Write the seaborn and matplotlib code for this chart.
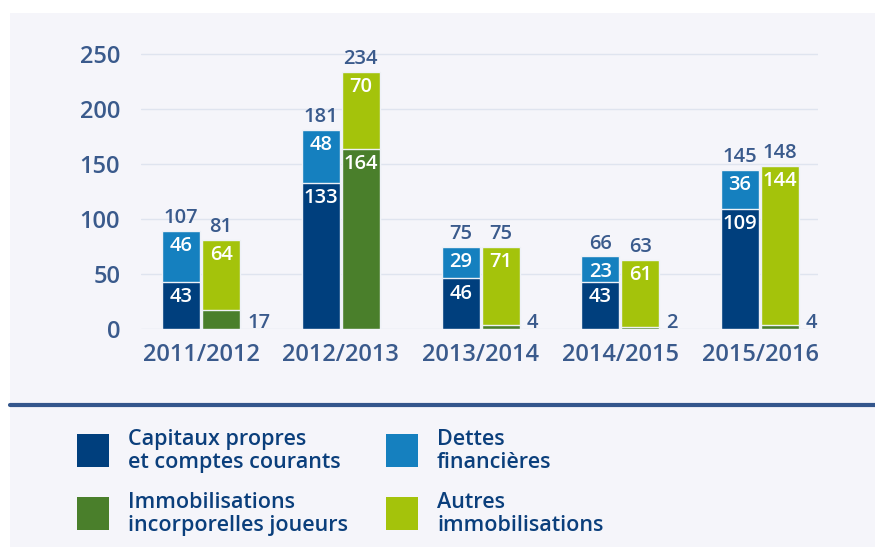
import matplotlib
matplotlib.use("Agg")
import matplotlib.pyplot as plt
import seaborn as sns
import pandas as pd
from matplotlib.patches import Rectangle
from matplotlib.lines import Line2D

# Saisons et montants (M€)
seasons = ["2011/2012", "2012/2013", "2013/2014", "2014/2015", "2015/2016"]
capitaux = [43, 133, 46, 43, 109]          # Capitaux propres et comptes courants
dettes = [46, 48, 29, 23, 36]              # Dettes financières
immob_joueurs = [17, 164, 4, 2, 4]         # Immobilisations incorporelles joueurs
autres_immob = [64, 70, 71, 61, 144]       # Autres immobilisations
total_financement = [107, 181, 75, 66, 145]
total_actifs = [81, 234, 75, 63, 148]
y_ticks = [0, 50, 100, 150, 200, 250]

legend_labels = {
    "capitaux": "Capitaux propres\net comptes courants",
    "dettes": "Dettes\nfinancières",
    "joueurs": "Immobilisations\nincorporelles joueurs",
    "autres": "Autres\nimmobilisations",
}

C_CAPITAUX = "#003f7d"
C_DETTES = "#1580bf"
C_JOUEURS = "#4a7f2b"
C_AUTRES = "#a4c30b"
C_TEXT = "#3a5a8c"
C_LEGEND = "#0b3f7c"
C_BG = "#f5f5fa"
WEIGHT = "semibold"

sns.set_theme(style="white")
plt.rcParams["font.family"] = ["Open Sans", "DejaVu Sans"]
plt.rcParams["font.weight"] = WEIGHT

W, H = 875, 547
fig = plt.figure(figsize=(W / 100, H / 100), dpi=100)
fig.patch.set_facecolor("white")
fig.add_artist(Rectangle((10 / W, 0), 1 - 10 / W, 1 - 13 / H, transform=fig.transFigure,
                         facecolor=C_BG, edgecolor="none", zorder=-10))

ax = fig.add_axes([141 / W, 1 - 329 / H, 677 / W, 286 / H])
ax.set_facecolor("none")

sides = ["Financement", "Actifs"]
upper = pd.DataFrame({
    "saison": seasons * 2,
    "cote": ["Financement"] * len(seasons) + ["Actifs"] * len(seasons),
    "valeur": [c + d for c, d in zip(capitaux, dettes)]
              + [j + a for j, a in zip(immob_joueurs, autres_immob)],
})
lower = pd.DataFrame({
    "saison": seasons * 2,
    "cote": ["Financement"] * len(seasons) + ["Actifs"] * len(seasons),
    "valeur": capitaux + immob_joueurs,
})

kw = dict(x="saison", y="valeur", hue="cote", hue_order=sides, order=seasons,
          width=0.572, gap=0.05, dodge=True, edgecolor="#eef1f7", linewidth=1,
          legend=False, saturation=1, errorbar=None, ax=ax)
sns.barplot(data=upper, palette={"Financement": C_DETTES, "Actifs": C_AUTRES}, **kw)
sns.barplot(data=lower, palette={"Financement": C_CAPITAUX, "Actifs": C_JOUEURS}, **kw)

ax.set_xlim(-0.43, 4.415)
ax.set_ylim(0, 260)
ax.set_yticks(y_ticks)
ax.set_yticklabels([str(t) for t in y_ticks])
ax.set_xlabel("")
ax.set_ylabel("")
ax.grid(axis="y", color="#dfe4ef", linewidth=1)
ax.set_axisbelow(True)
for s in ax.spines.values():
    s.set_visible(False)
ax.tick_params(axis="y", length=0, pad=15, labelsize=17, labelcolor=C_TEXT)
ax.tick_params(axis="x", length=0, pad=10, labelsize=17, labelcolor=C_TEXT)
for lab in ax.get_xticklabels() + ax.get_yticklabels():
    lab.set_fontweight(WEIGHT)
for lab in ax.get_yticklabels():
    lab.set_verticalalignment("center_baseline")

up_left, up_right, low_left, low_right = ax.containers[:4]

def inside(bar, top, value):
    x = bar.get_x() + bar.get_width() / 2
    ax.annotate(str(value), (x, top), xytext=(0, -11), textcoords="offset points",
                ha="center", va="center", fontsize=14.5, color="white", fontweight=WEIGHT)

def above(bar, value):
    x = bar.get_x() + bar.get_width() / 2
    ax.annotate(str(value), (x, bar.get_height()), xytext=(0, 2), textcoords="offset points",
                ha="center", va="bottom", fontsize=14.5, color=C_TEXT, fontweight=WEIGHT)

for i in range(len(seasons)):
    # colonne financement
    inside(low_left[i], capitaux[i], capitaux[i])
    inside(up_left[i], capitaux[i] + dettes[i], dettes[i])
    above(up_left[i], total_financement[i])
    # colonne actifs
    inside(up_right[i], immob_joueurs[i] + autres_immob[i], autres_immob[i])
    above(up_right[i], total_actifs[i])
    rb = low_right[i]
    if immob_joueurs[i] < 30:
        ax.annotate(str(immob_joueurs[i]), (rb.get_x() + rb.get_width(), 0), xytext=(5, 1),
                    textcoords="offset points", ha="left", va="baseline",
                    fontsize=14.5, color=C_TEXT, fontweight=WEIGHT)
    else:
        inside(rb, immob_joueurs[i], immob_joueurs[i])

# séparateur
fig.add_artist(Line2D([10 / W, 1], [1 - 405 / H] * 2, transform=fig.transFigure,
                      color="#34568c", linewidth=3))

# légende
legend_items = [
    ("capitaux", C_CAPITAUX, 77, 434),
    ("dettes", C_DETTES, 386, 434),
    ("joueurs", C_JOUEURS, 77, 497),
    ("autres", C_AUTRES, 386, 497),
]
for key, color, px, py in legend_items:
    fig.add_artist(Rectangle((px / W, 1 - (py + 33) / H), 32 / W, 33 / H,
                             transform=fig.transFigure, facecolor=color, edgecolor="none"))
    fig.text((px + 51) / W, 1 - (py + 17) / H, legend_labels[key], ha="left", va="center",
             fontsize=15.5, color=C_LEGEND, linespacing=1.08, fontweight=WEIGHT)

fig.savefig("out.png", dpi=100, facecolor=fig.get_facecolor())
